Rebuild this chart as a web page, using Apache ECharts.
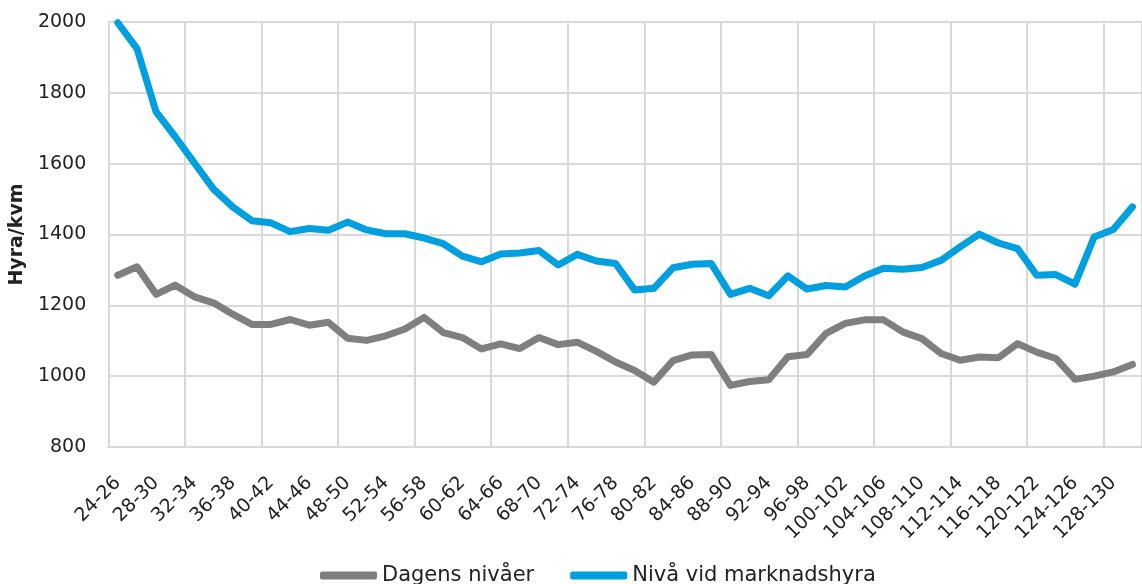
<!DOCTYPE html>
<html>
<head>
<meta charset="utf-8">
<script src="https://cdn.jsdelivr.net/npm/echarts@6/dist/echarts.min.js"></script>
<style>
  html, body { margin: 0; padding: 0; background: #fff; }
  #chart { width: 1142px; height: 584px; }
</style>
</head>
<body>
<div id="chart"></div>
<script>
// age bands (x axis)
var categories = [
  '24-26', '26-28', '28-30', '30-32', '32-34', '34-36', '36-38', '38-40', '40-42', '42-44',
  '44-46', '46-48', '48-50', '50-52', '52-54', '54-56', '56-58', '58-60', '60-62', '62-64',
  '64-66', '66-68', '68-70', '70-72', '72-74', '74-76', '76-78', '78-80', '80-82', '82-84',
  '84-86', '86-88', '88-90', '90-92', '92-94', '94-96', '96-98', '98-100', '100-102', '102-104',
  '104-106', '106-108', '108-110', '110-112', '112-114', '114-116', '116-118', '118-120', '120-122', '122-124',
  '124-126', '126-128', '128-130', '130-132'
];

// Dagens nivåer (grey)
var dagensNivaer = [
  1285, 1309, 1231, 1257, 1224, 1207, 1175, 1146, 1146, 1160,
  1144, 1152, 1107, 1101, 1114, 1133, 1166, 1123, 1109, 1077,
  1091, 1078, 1109, 1089, 1096, 1070, 1040, 1016, 983, 1044,
  1060, 1061, 974, 985, 990, 1055, 1061, 1121, 1149, 1159,
  1159, 1125, 1106, 1064, 1045, 1054, 1052, 1092, 1068, 1050,
  991, 1000, 1012, 1033
];

// Nivå vid marknadshyra (blue)
var marknadshyra = [
  1998, 1925, 1746, 1676, 1602, 1528, 1478, 1439, 1433, 1408,
  1417, 1412, 1435, 1413, 1402, 1402, 1390, 1374, 1339, 1323,
  1345, 1348, 1355, 1314, 1344, 1325, 1318, 1243, 1248, 1306,
  1316, 1318, 1231, 1248, 1227, 1283, 1246, 1256, 1252, 1283,
  1305, 1302, 1307, 1327, 1365, 1401, 1376, 1360, 1285, 1287,
  1260, 1393, 1414, 1478
];

var yTicks = { min: 800, max: 2000, interval: 200 };

var fontFamily = '"DejaVu Sans", sans-serif';
var textColor = '#222';
var gridColor = '#d9d9d9';

var chart = echarts.init(document.getElementById('chart'));
chart.setOption({
  animation: false,
  textStyle: { fontFamily: fontFamily, color: textColor },
  grid: { left: 107, top: 22, width: 1044, bottom: 137, containLabel: false },
  legend: {
    top: 560,
    left: 315,
    icon: 'roundRect',
    itemWidth: 57,
    itemHeight: 8,
    itemGap: 36,
    textStyle: { fontFamily: fontFamily, fontSize: 21, color: textColor },
    data: ['Dagens nivåer', 'Nivå vid marknadshyra']
  },
  xAxis: {
    type: 'category',
    data: categories,
    boundaryGap: true,
    axisLine: { lineStyle: { color: gridColor, width: 2 } },
    axisTick: { show: false },
    axisLabel: {
      interval: 1,
      rotate: 45,
      margin: 33,
      fontSize: 19,
      color: textColor,
      fontFamily: fontFamily
    },
    splitLine: { show: true, interval: 3, lineStyle: { color: gridColor, width: 2 } }
  },
  yAxis: {
    type: 'value',
    min: yTicks.min,
    max: yTicks.max,
    interval: yTicks.interval,
    name: 'Hyra/kvm',
    nameLocation: 'middle',
    nameGap: 60,
    nameRotate: 90,
    nameTextStyle: { fontSize: 19, fontWeight: 'bold', color: textColor, fontFamily: fontFamily },
    axisLine: { show: true, lineStyle: { color: gridColor, width: 2 } },
    axisTick: { show: false },
    axisLabel: {
      margin: 22,
      fontSize: 19,
      color: textColor,
      fontFamily: fontFamily,
      formatter: function (v) { return String(v); }
    },
    splitLine: { lineStyle: { color: gridColor, width: 2 } }
  },
  series: [
    {
      name: 'Dagens nivåer',
      type: 'line',
      data: dagensNivaer,
      symbol: 'none',
      color: '#7f7f7f',
      lineStyle: { width: 7, color: '#7f7f7f', join: 'round', cap: 'round' }
    },
    {
      name: 'Nivå vid marknadshyra',
      type: 'line',
      data: marknadshyra,
      symbol: 'none',
      color: '#009fe0',
      lineStyle: { width: 7, color: '#009fe0', join: 'round', cap: 'round' }
    }
  ]
});
</script>
</body>
</html>
